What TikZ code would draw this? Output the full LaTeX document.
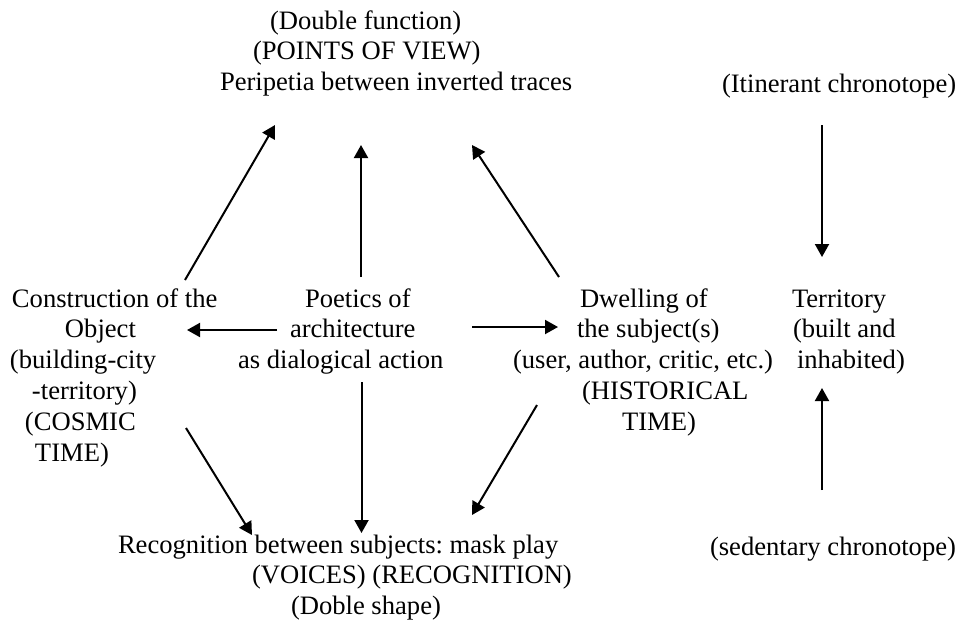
\documentclass[tikz,border=0pt]{standalone}
\usepackage{fontspec}
\setmainfont{Liberation Serif}
\usetikzlibrary{arrows.meta}
\frenchspacing
\newcommand{\ML}[1]{\vtop{\halign{##\hfil\cr#1\crcr}}}
\tikzset{
  txt/.style={inner sep=0pt, outer sep=0pt, anchor=base west, font=\fontsize{13.3}{15.4}\selectfont},
  arr/.style={line width=1pt, -{Triangle[length=6.5pt,width=7pt]}}
}
\begin{document}
\begin{tikzpicture}[x=0.5pt,y=-0.5pt]
\useasboundingbox (0,0) rectangle (958,622);
% text nodes
\node[txt] (peri) at (220,29) {\ML{\kern25pt (Double function)\cr\kern16.5pt (POINTS OF VIEW)\cr Peripetia between inverted traces}};
\node[txt] (itin) at (722,92) {(Itinerant chronotope)};
\node[txt] (cons) at (10,307) {\ML{\kern1pt Construction of the\cr\kern27.5pt Object\cr (building-city\cr\kern11pt -territory)\cr\kern7.5pt (COSMIC\cr\kern12.5pt TIME)}};
\node[txt] (poet) at (238,307) {\ML{\kern33.5pt Poetics of\cr\kern26pt architecture\cr as dialogical action}};
\node[txt] (dwel) at (513,307) {\ML{\kern33.5pt Dwelling of\cr\kern32pt the subject(s)\cr (user, author, critic, etc.)\cr\kern34.5pt (HISTORICAL\cr\kern54.5pt TIME)}};
\node[txt] (terr) at (792,307) {\ML{Territory\cr\kern0.5pt (built and\cr\kern2.5pt inhabited)}};
\node[txt] (reco) at (118,553) {\ML{Recognition between subjects: mask play\cr\kern67pt (VOICES) (RECOGNITION)\cr\kern86.5pt (Doble shape)}};
\node[txt] (sede) at (710,555) {(sedentary chronotope)};
% connector end points
\coordinate (consUp) at (185,280);   \coordinate (periL) at (275,125);
\coordinate (poetUp) at (361,277);   \coordinate (periM) at (361,145);
\coordinate (dwelUp) at (559,277);   \coordinate (periR) at (472,145);
\coordinate (poetW) at (277,330);    \coordinate (consE) at (187,330);
\coordinate (poetE) at (472,327);    \coordinate (dwelW) at (558,327);
\coordinate (poetDn) at (361.5,382); \coordinate (recoM) at (361.5,533);
\coordinate (consDn) at (186,428);   \coordinate (recoL) at (252,535);
\coordinate (dwelDn) at (537,405);   \coordinate (recoR) at (472,515);
\coordinate (itinDn) at (822,125);   \coordinate (terrT) at (822,257);
\coordinate (sedeUp) at (822,490);   \coordinate (terrB) at (822,388);
% connectors
\draw[arr] (consUp) -- (periL);
\draw[arr] (poetUp) -- (periM);
\draw[arr] (dwelUp) -- (periR);
\draw[arr] (poetW) -- (consE);
\draw[arr] (poetE) -- (dwelW);
\draw[arr] (poetDn) -- (recoM);
\draw[arr] (consDn) -- (recoL);
\draw[arr] (dwelDn) -- (recoR);
\draw[arr] (itinDn) -- (terrT);
\draw[arr] (sedeUp) -- (terrB);
\end{tikzpicture}
\end{document}
